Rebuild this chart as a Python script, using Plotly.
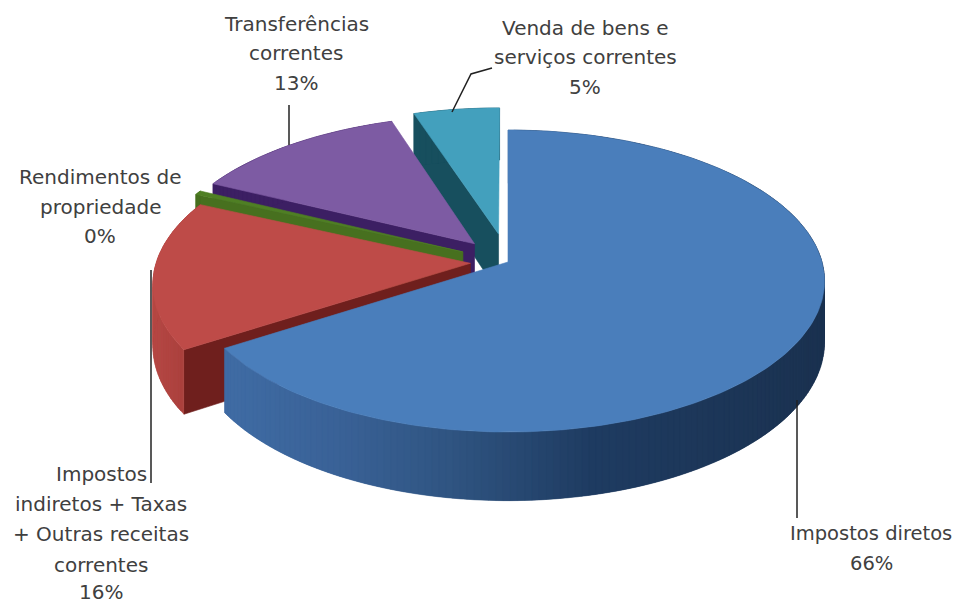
import numpy as np
import plotly.graph_objects as go

categories = ["Impostos diretos", "Impostos indiretos + Taxas + Outras receitas correntes",
              "Rendimentos de propriedade", "Transferências correntes",
              "Venda de bens e serviços correntes"]
values = [65.9, 15.9, 0.45, 12.7, 5.05]
top_colors = ["#4a7ebb", "#be4b48", "#4f7f24", "#7d5ba3", "#43a0bd"]
cut_colors = ["#2c4d77", "#6f1f1d", "#47701f", "#3c1f63", "#174f5e"]
wall_stops = [
    [(240, "#3f6ba3"), (340, "#3a6297"), (450, "#305582"), (590, "#1f3c62"), (830, "#1b3250")],
    [(150, "#b84a46"), (190, "#a83f3c")],
    [(150, "#47701f"), (200, "#47701f")],
    [(150, "#3c1f63"), (400, "#3c1f63")],
    [(400, "#174f5e"), (500, "#174f5e")],
]
explode = [0.0, 0.12, 0.16, 0.165, 0.195]

CX, CY, A, B, K, D = 508.0, 262.0, 314.0, 148.6, 0.126, 60.0
PAGE = 8  # the page's own body margin


def project(x, y):
    w = 1 + K * y
    return CX + A * x / w, CY - B * y / w, D / w


def hex_rgb(h):
    return np.array([int(h[i:i + 2], 16) for i in (1, 3, 5)], float)


def wall_color(stops, sx):
    xs = [s[0] for s in stops]
    rgb = np.array([hex_rgb(s[1]) for s in stops])
    c = [np.interp(sx, xs, rgb[:, i]) for i in range(3)]
    return "rgb(%d,%d,%d)" % tuple(c)


fig = go.Figure()


def poly(xs, ys, color, lw=0.6):
    fig.add_trace(go.Scatter(x=list(xs) + [xs[0]], y=list(ys) + [ys[0]], mode="lines", fill="toself",
                             fillcolor=color, line=dict(color=color, width=lw),
                             hoverinfo="skip", showlegend=False))


shares = np.array(values) / sum(values) * 2 * np.pi
ends = np.cumsum(shares)
starts = ends - shares

for i in [4, 3, 2, 1, 0]:
    a0, a1 = starts[i], ends[i]
    mid = (a0 + a1) / 2
    ox, oy = explode[i] * np.sin(mid), explode[i] * np.cos(mid)
    n = max(4, int((a1 - a0) * 50))
    th = np.linspace(a0, a1, n)
    px, py, pd = project(ox + np.sin(th), oy + np.cos(th))
    tx, ty, td = project(ox, oy)
    # cut face on the starting radius
    if i != 0:
        poly([tx, px[0], px[0], tx], [ty, py[0], py[0] + pd[0], ty + td], cut_colors[i])
    # outer wall: each strip reaches under the next one so no seams show
    for j in range(n - 1):
        e = min(j + 2, n - 1)
        c = wall_color(wall_stops[i], (px[j] + px[j + 1]) / 2)
        poly([px[j], px[e], px[e], px[j]], [py[j], py[e], py[e] + pd[e], py[j] + pd[j]], c, 0.3)
    # top face
    poly([tx] + list(px), [ty] + list(py), top_colors[i])

# leader lines
leaders = [([797, 797], [400, 518]), ([151, 151], [270, 483]), ([289, 289], [105, 145]),
           ([452, 471, 492], [112, 74, 68])]
for lx, ly in leaders:
    fig.add_trace(go.Scatter(x=lx, y=ly, mode="lines", line=dict(color="#222222", width=1.5),
                             hoverinfo="skip", showlegend=False))

label_lines = [
    (["Impostos diretos"], 871, [533, 563], 0),
    (["Impostos", "indiretos + Taxas", "+ Outras receitas", "correntes"], 101, [474, 504, 534, 565, 592], 1),
    (["Rendimentos de", "propriedade"], 100, [177, 207, 236], 2),
    (["Transferências", "correntes"], 296, [24, 53, 83], 3),
    (["Venda de bens e", "serviços correntes"], 585, [28, 57, 87], 4),
]
anns = []
for lines, x, ys, idx in label_lines:
    pct = "%d%%" % round(values[idx])
    for t, y in zip(lines + [pct], ys):
        anns.append(dict(x=x, y=y, text=t, showarrow=False, xanchor="center", yanchor="middle",
                         font=dict(family="DejaVu Sans", size=20 if idx else 19.5, color="#404040")))

fig.update_layout(
    width=963, height=603, margin=dict(l=0, r=0, t=0, b=0),
    paper_bgcolor="white", plot_bgcolor="white", showlegend=False,
    xaxis=dict(range=[PAGE, 963 + PAGE], visible=False, fixedrange=True),
    yaxis=dict(range=[603 + PAGE, PAGE], visible=False, fixedrange=True),
    annotations=anns,
)
fig.write_html("out.html")
